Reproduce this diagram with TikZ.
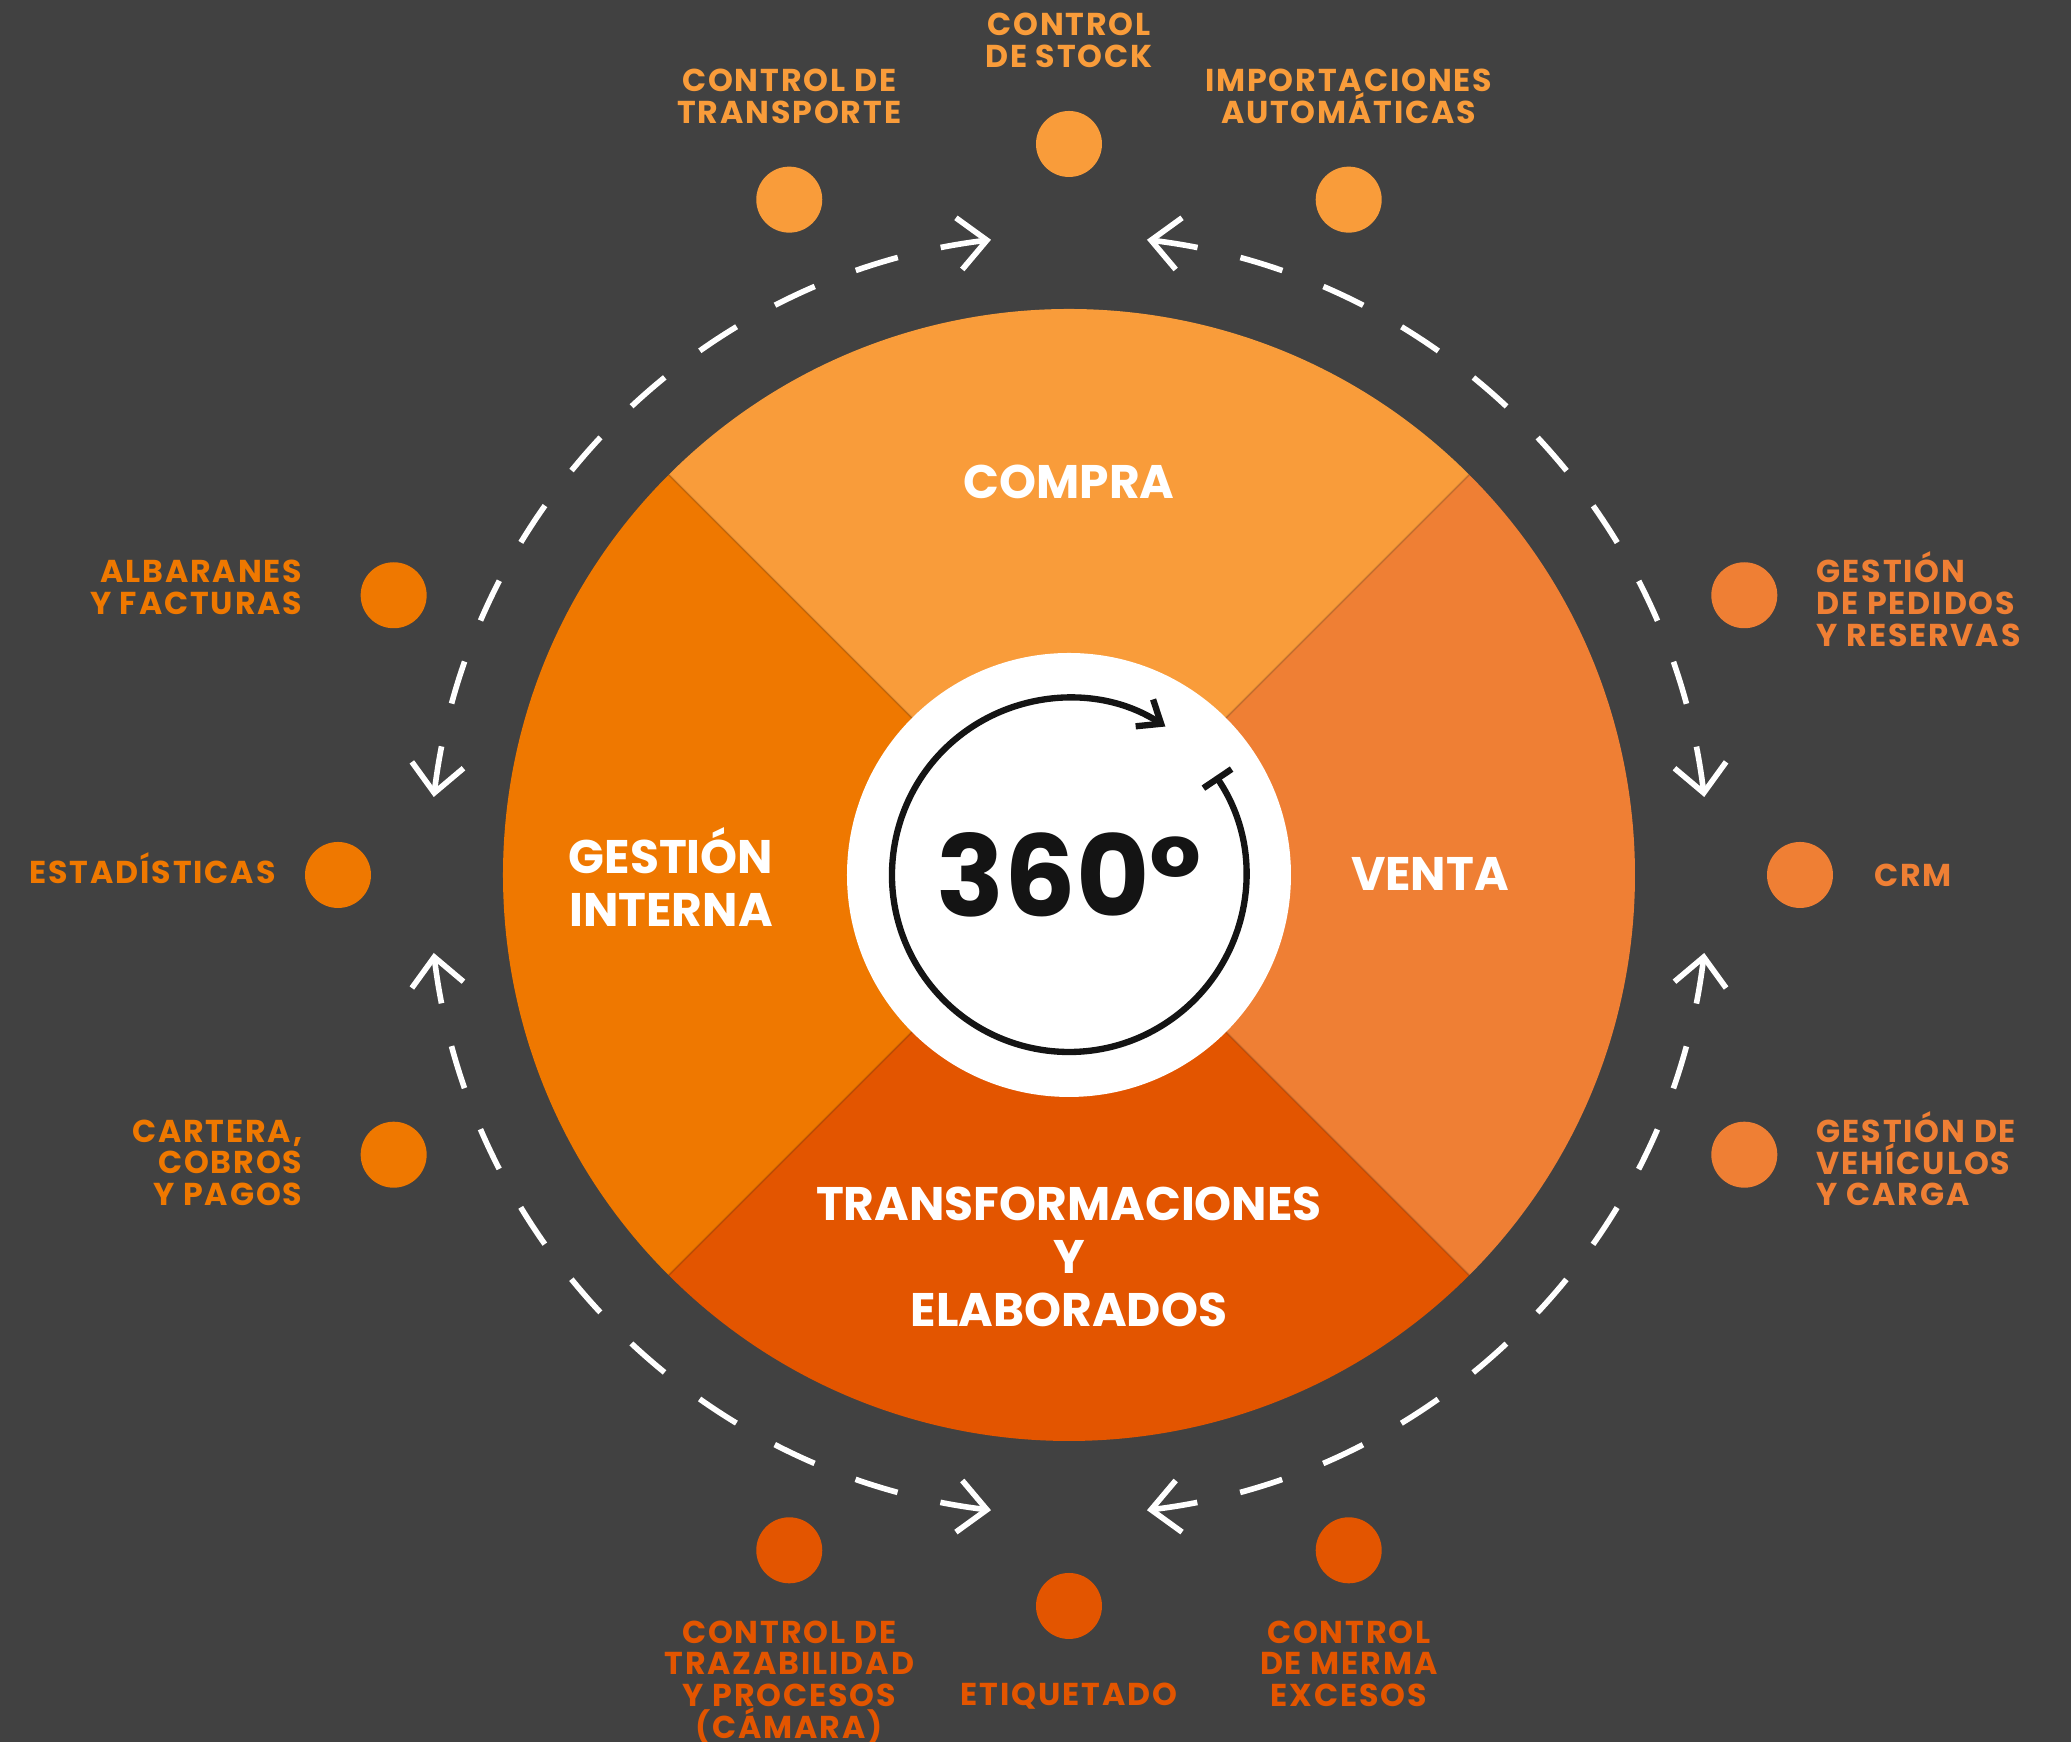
\documentclass[tikz,border=0pt]{standalone}
\usepackage{fontspec}
\setmainfont{Poppins}
\usetikzlibrary{arrows.meta,positioning}

\definecolor{bg}{HTML}{414141}
\definecolor{compra}{HTML}{F99C3A}
\definecolor{venta}{HTML}{EF7F34}
\definecolor{transf}{HTML}{E35500}
\definecolor{interna}{HTML}{EF7800}
\definecolor{ink}{HTML}{141414}

\begin{document}
\begin{tikzpicture}[
    dot/.style={circle, minimum size=0.66cm, inner sep=0pt},
    toplabel/.style={align=center, inner sep=0pt, font=\fontsize{9}{9}\selectfont\bfseries\addfontfeature{LetterSpace=6}},
    leftlabel/.style={align=right, inner sep=0pt, font=\fontsize{9}{9}\selectfont\bfseries\addfontfeature{LetterSpace=6}},
    rightlabel/.style={align=left, inner sep=0pt, font=\fontsize{9}{9}\selectfont\bfseries\addfontfeature{LetterSpace=6}},
    quadlabel/.style={text=white, align=center, inner sep=0pt, font=\fontsize{13.4}{15}\selectfont\bfseries},
    ringarrow/.style={white, line width=1.6pt, dash pattern=on 0.44cm off 0.44cm,
        {Straight Barb[length=0.28cm,width=0.52cm]}-{Straight Barb[length=0.28cm,width=0.52cm]}},
    divider/.style={black, opacity=0.12, line width=0.6pt}
]
    % Background
    \useasboundingbox (-10.69,-8.67) rectangle (10.02,8.75);
    \fill[bg] (-10.69,-8.67) rectangle (10.02,8.75);

    % Quadrants
    \fill[compra] (0,0) -- (45:5.66) arc[start angle=45, end angle=135, radius=5.66] -- cycle;
    \fill[interna] (0,0) -- (135:5.66) arc[start angle=135, end angle=225, radius=5.66] -- cycle;
    \fill[transf] (0,0) -- (225:5.66) arc[start angle=225, end angle=315, radius=5.66] -- cycle;
    \fill[venta] (0,0) -- (-45:5.66) arc[start angle=-45, end angle=45, radius=5.66] -- cycle;
    \draw[divider] (45:2.2) -- (45:5.66);
    \draw[divider] (135:2.2) -- (135:5.66);
    \draw[divider] (225:2.2) -- (225:5.66);
    \draw[divider] (315:2.2) -- (315:5.66);

    % Centre
    \fill[white] (0,0) circle (2.22);
    \draw[ink, line width=1.8pt, {Bar[width=0.34cm]}-{Straight Barb[length=0.2cm,width=0.32cm]}]
        (34:1.77) arc[start angle=34, end angle=-303, radius=1.77];
    \node[text=ink, inner sep=0pt, font=\fontsize{32}{32}\selectfont\bfseries] (deg) at (0,0) {360°};

    % Quadrant labels
    \node[quadlabel] (compralbl) at (0,3.93) {COMPRA};
    \node[quadlabel] (ventalbl) at (3.61,0.01) {VENTA};
    \node[quadlabel] (internalbl) at (-3.98,-0.02) {GESTIÓN\\INTERNA};
    \node[quadlabel] (transflbl) at (0,-3.82) {TRANSFORMACIONES\\Y\\ELABORADOS};

    % Dashed ring
    \draw[ringarrow] (7:6.4) arc[start angle=7, end angle=83, radius=6.4];
    \draw[ringarrow] (97:6.4) arc[start angle=97, end angle=173, radius=6.4];
    \draw[ringarrow] (187:6.4) arc[start angle=187, end angle=263, radius=6.4];
    \draw[ringarrow] (277:6.4) arc[start angle=277, end angle=353, radius=6.4];

    % Dots
    \node[dot, fill=compra] (stock) at (90:7.31) {};
    \node[dot, fill=compra] (transporte) at (112.5:7.31) {};
    \node[dot, fill=compra] (importaciones) at (67.5:7.31) {};
    \node[dot, fill=venta] (pedidos) at (22.5:7.31) {};
    \node[dot, fill=venta] (crm) at (0:7.31) {};
    \node[dot, fill=venta] (vehiculos) at (-22.5:7.31) {};
    \node[dot, fill=transf] (merma) at (-67.5:7.31) {};
    \node[dot, fill=transf] (etiquetado) at (-90:7.31) {};
    \node[dot, fill=transf] (trazabilidad) at (-112.5:7.31) {};
    \node[dot, fill=interna] (albaranes) at (157.5:7.31) {};
    \node[dot, fill=interna] (estadisticas) at (180:7.31) {};
    \node[dot, fill=interna] (cartera) at (202.5:7.31) {};

    % Labels
    \node[toplabel, text=compra, above=0.42 of stock] (stocktxt) {CONTROL\\DE STOCK};
    \node[toplabel, text=compra, above=0.42 of transporte] (transportetxt) {CONTROL DE\\TRANSPORTE};
    \node[toplabel, text=compra, above=0.42 of importaciones] (importacionestxt) {IMPORTACIONES\\AUTOMÁTICAS};
    \node[rightlabel, text=venta, right=0.38 of pedidos, yshift=-0.04cm] (pedidostxt) {GESTIÓN\\DE PEDIDOS\\Y RESERVAS};
    \node[rightlabel, text=venta, right=0.40 of crm] (crmtxt) {CRM};
    \node[rightlabel, text=venta, right=0.38 of vehiculos, yshift=-0.04cm] (vehiculostxt) {GESTIÓN DE\\VEHÍCULOS\\Y CARGA};
    \node[toplabel, text=transf, below=0.36 of merma] (mermatxt) {CONTROL\\DE MERMA\\EXCESOS};
    \node[toplabel, text=transf, below=0.43 of etiquetado] (etiquetadotxt) {ETIQUETADO};
    \node[toplabel, text=transf, below=0.36 of trazabilidad] (trazabilidadtxt) {CONTROL DE\\TRAZABILIDAD\\Y PROCESOS\\(CÁMARA)};
    \node[leftlabel, text=interna, left=0.57 of albaranes, yshift=0.08cm] (albaranestxt) {ALBARANES\\Y FACTURAS};
    \node[leftlabel, text=interna, left=0.28 of estadisticas, yshift=0.07cm] (estadisticastxt) {ESTADÍSTICAS};
    \node[leftlabel, text=interna, left=0.57 of cartera, yshift=-0.08cm] (carteratxt) {CARTERA,\\COBROS\\Y PAGOS};
\end{tikzpicture}
\end{document}
